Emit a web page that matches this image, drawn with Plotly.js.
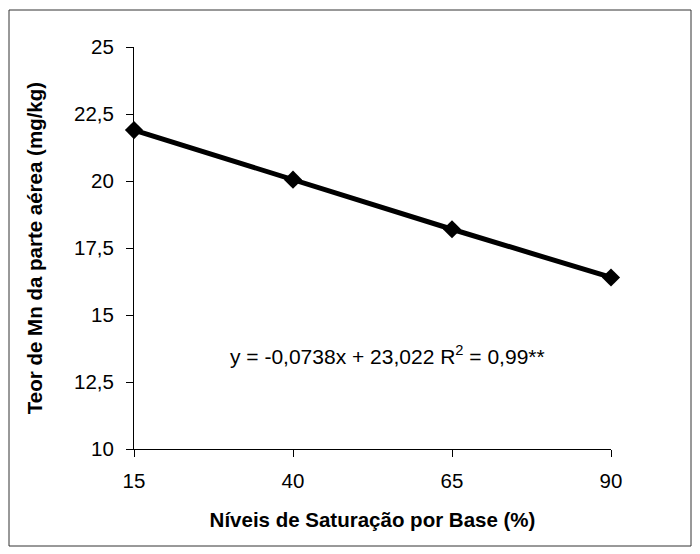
<!DOCTYPE html>
<html>
<head>
<meta charset="utf-8">
<script src="https://cdn.plot.ly/plotly-3.0.1.min.js"></script>
<style>html,body{margin:0;padding:0;background:#fff;}#chart{width:700px;height:554px;}</style>
</head>
<body>
<div id="chart"></div>
<script>
const niveis = [15, 40, 65, 90];
const teorMn = [21.9, 20.05, 18.2, 16.4];
const yTicks = [10, 12.5, 15, 17.5, 20, 22.5, 25];
const equationText = 'y = -0,0738x + 23,022 R<sup>2</sup> = 0,99**';

const trace = {
  x: niveis, y: teorMn, type: 'scatter', mode: 'lines+markers',
  line: {color: '#000', width: 5},
  marker: {symbol: 'diamond', size: 14, color: '#000'},
  showlegend: false, cliponaxis: false
};

const plotL = 134, plotR = 611, plotT = 47, plotB = 449;
const W = 700, H = 554;
const pw = plotR - plotL, ph = plotB - plotT;
const px = v => (v - plotL) / pw;
const py = v => (plotB - v) / ph;

const layout = {
  width: W, height: H,
  margin: {l: plotL, r: W - plotR, t: plotT, b: H - plotB, pad: 0},
  paper_bgcolor: '#fff', plot_bgcolor: '#fff',
  separators: ',.',
  font: {family: 'Liberation Sans, Arial, sans-serif', size: 20.5, color: '#000'},
  xaxis: {
    range: [15, 90], tickvals: niveis, ticktext: niveis.map(String),
    showgrid: false, zeroline: false, showline: true, linecolor: '#000', linewidth: 1,
    ticks: 'outside', ticklen: 7, tickcolor: '#000', ticklabelstandoff: 6,
    tickfont: {size: 20.5},
    title: {text: 'Níveis de Saturação por Base (%)', font: {size: 20.5, weight: 'bold'}, standoff: 22}
  },
  yaxis: {
    range: [10, 25], tickvals: yTicks,
    showgrid: false, zeroline: false, showline: true, linecolor: '#000', linewidth: 1,
    ticks: 'outside', ticklen: 7, tickcolor: '#000', ticklabelstandoff: 8,
    tickfont: {size: 20.5},
    title: {text: 'Teor de Mn da parte aérea (mg/kg)', font: {size: 20.5, weight: 'bold'}, standoff: 25}
  },
  annotations: [{
    xref: 'paper', yref: 'paper', x: px(387), y: py(355), xanchor: 'center', yanchor: 'middle',
    text: equationText, showarrow: false, font: {size: 21}
  }],
  shapes: [{
    type: 'rect', xref: 'paper', yref: 'paper',
    x0: px(9), x1: px(691), y0: py(546), y1: py(10),
    line: {color: '#333', width: 1}
  }]
};

Plotly.newPlot('chart', [trace], layout, {displayModeBar: false, staticPlot: true});
</script>
</body>
</html>
